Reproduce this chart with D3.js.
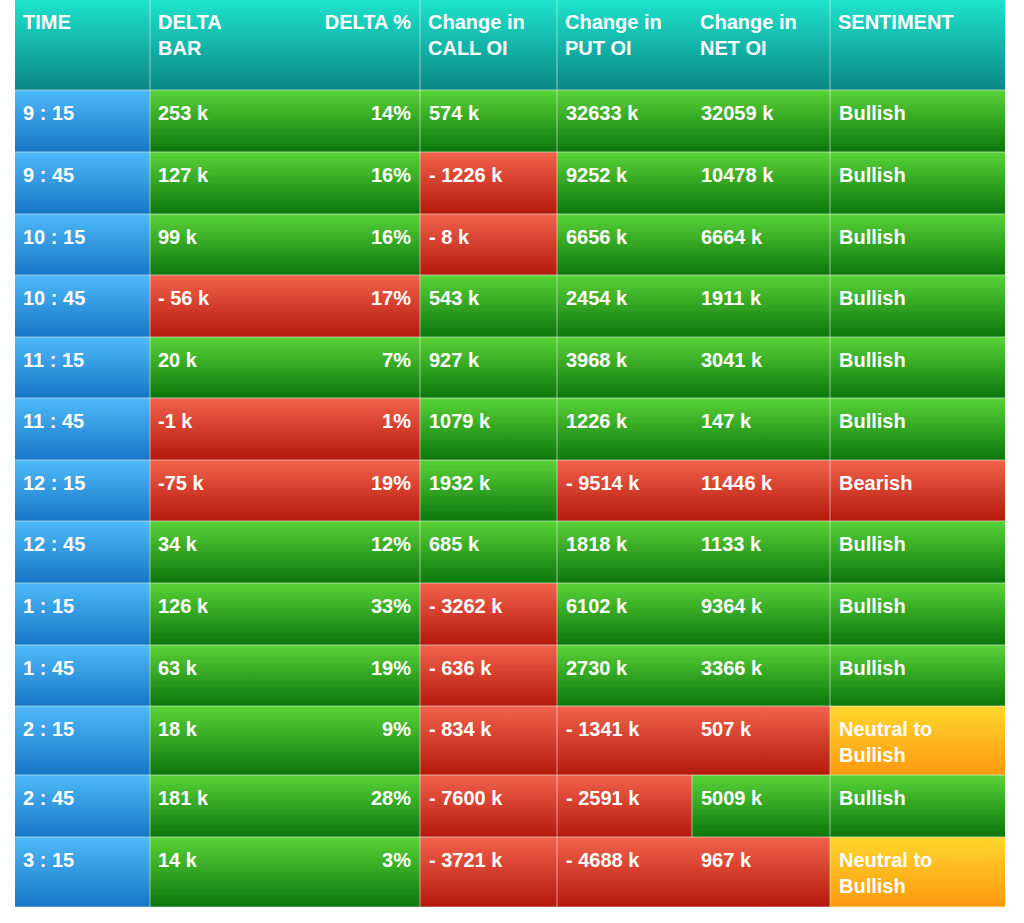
<!DOCTYPE html>
<html>
<head>
<meta charset="utf-8">
<title>OI Table</title>
<script src="https://d3js.org/d3.v7.min.js"></script>
<style>
  body { margin: 0; background: #fff; }
  text { font-family: "Liberation Sans", Arial, sans-serif; font-weight: bold; fill: #fff; font-size: 20px; }
</style>
</head>
<body>
<div id="vis"></div>
<script>
// data
var times = ["9 : 15","9 : 45","10 : 15","10 : 45","11 : 15","11 : 45","12 : 15","12 : 45","1 : 15","1 : 45","2 : 15","2 : 45","3 : 15"];
var deltaBar = [253, 127, 99, -56, 20, -1, -75, 34, 126, 63, 18, 181, 14];
var deltaPct = [14, 16, 16, 17, 7, 1, 19, 12, 33, 19, 9, 28, 3];
var callOI = [574, -1226, -8, 543, 927, 1079, 1932, 685, -3262, -636, -834, -7600, -3721];
var putOI = [32633, 9252, 6656, 2454, 3968, 1226, -9514, 1818, 6102, 2730, -1341, -2591, -4688];
var netOI = [32059, 10478, 6664, 1911, 3041, 147, 11446, 1133, 9364, 3366, 507, 5009, 967];
var netUp = [true, true, true, true, true, true, false, true, true, true, false, true, false];
var sentiment = ["Bullish","Bullish","Bullish","Bullish","Bullish","Bullish","Bearish","Bullish","Bullish","Bullish","Neutral to|Bullish","Bullish","Neutral to|Bullish"];

var W = 1024, H = 923;
var left = 15, right = 1005, headH = 90;
var rowH = [62,62,61,62,61,62,61,62,62,61,69,62,70];
var colX = [15, 150, 420, 557, 692, 830, 1005];

var svg = d3.select("#vis").append("svg").attr("width", W).attr("height", H);
var defs = svg.append("defs");
function grad(id, top, bot) {
  var g = defs.append("linearGradient").attr("id", id).attr("x1", 0).attr("y1", 0).attr("x2", 0).attr("y2", 1);
  g.append("stop").attr("offset", "0%").attr("stop-color", top);
  g.append("stop").attr("offset", "100%").attr("stop-color", bot);
}
grad("gHead", "#1ee3cb", "#0a8785");
grad("gBlue", "#4fbaf9", "#1676c6");
grad("gGreen", "#5ad338", "#0b760c");
grad("gRed", "#f2634c", "#b4180b");
grad("gOrange", "#ffd72e", "#ff980e");

var fmt = function(v) { return v < 0 ? (v > -10 || Math.abs(v) < 100 && v === -1 ? "-" + (-v) + " k" : "- " + (-v) + " k") : v + " k"; };
var fmtDelta = function(v) { return v < 0 ? (v === -56 ? "- 56 k" : v + " k") : v + " k"; };
var fill = function(pos) { return pos ? "url(#gGreen)" : "url(#gRed)"; };

// header
svg.append("rect").attr("x", left).attr("y", 0).attr("width", right - left).attr("height", headH).attr("fill", "url(#gHead)");
var headers = [[left, ["TIME"]], [colX[1], ["DELTA", "BAR"]], [colX[2], ["Change in", "CALL OI"]], [colX[3], ["Change in", "PUT OI"]], [colX[4], ["Change in", "NET OI"]], [colX[5], ["SENTIMENT"]]];
headers.forEach(function(h) {
  h[1].forEach(function(t, i) {
    svg.append("text").attr("x", h[0] + 8).attr("y", 29 + i * 26).text(t);
  });
});
svg.append("text").attr("x", 411).attr("y", 29).attr("text-anchor", "end").text("DELTA %");

var yTop = [];
var acc = headH;
rowH.forEach(function(h) { yTop.push(acc); acc += h; });

times.forEach(function(t, i) {
  var y = yTop[i], h = rowH[i], by = y + 30;
  var g = svg.append("g");
  g.append("rect").attr("x", colX[0]).attr("y", y).attr("width", colX[1] - colX[0]).attr("height", h).attr("fill", "url(#gBlue)");
  g.append("rect").attr("x", colX[1]).attr("y", y).attr("width", colX[2] - colX[1]).attr("height", h).attr("fill", fill(deltaBar[i] >= 0));
  g.append("rect").attr("x", colX[2]).attr("y", y).attr("width", colX[3] - colX[2]).attr("height", h).attr("fill", fill(callOI[i] >= 0));
  g.append("rect").attr("x", colX[3]).attr("y", y).attr("width", colX[4] - colX[3]).attr("height", h).attr("fill", fill(putOI[i] >= 0));
  g.append("rect").attr("x", colX[4]).attr("y", y).attr("width", colX[5] - colX[4]).attr("height", h).attr("fill", fill(netUp[i]));
  var s = sentiment[i];
  var sf = s === "Bullish" ? "url(#gGreen)" : s === "Bearish" ? "url(#gRed)" : "url(#gOrange)";
  g.append("rect").attr("x", colX[5]).attr("y", y).attr("width", colX[6] - colX[5]).attr("height", h).attr("fill", sf);

  g.append("text").attr("x", colX[0] + 8).attr("y", by).text(t);
  g.append("text").attr("x", colX[1] + 8).attr("y", by).text(fmtDelta(deltaBar[i]));
  g.append("text").attr("x", colX[2] - 9).attr("y", by).attr("text-anchor", "end").text(deltaPct[i] + "%");
  g.append("text").attr("x", colX[2] + 9).attr("y", by).text(callOI[i] < 0 ? "- " + (-callOI[i]) + " k" : callOI[i] + " k");
  g.append("text").attr("x", colX[3] + 9).attr("y", by).text(putOI[i] < 0 ? "- " + (-putOI[i]) + " k" : putOI[i] + " k");
  g.append("text").attr("x", colX[4] + 9).attr("y", by).text(netOI[i] + " k");
  s.split("|").forEach(function(p, k) {
    g.append("text").attr("x", colX[5] + 9).attr("y", by + k * 26).text(p);
  });
});

// grid lines
var bottom = acc;
svg.append("g").selectAll("line.h").data(yTop.concat([bottom])).join("line")
  .attr("x1", left).attr("x2", right).attr("y1", function(d) { return d; }).attr("y2", function(d) { return d; })
  .attr("stroke", "#e6f0e6").attr("stroke-width", 1).attr("opacity", 0.6);
svg.append("g").selectAll("line.v").data([colX[1], colX[2], colX[3], colX[5]]).join("line")
  .attr("x1", function(d) { return d; }).attr("x2", function(d) { return d; }).attr("y1", 0).attr("y2", bottom)
  .attr("stroke", "#e6f0e6").attr("stroke-width", 1).attr("opacity", 0.6);
// split between put and net only where colours differ
times.forEach(function(t, i) {
  if ((putOI[i] >= 0) !== netUp[i]) {
    svg.append("line").attr("x1", colX[4]).attr("x2", colX[4]).attr("y1", yTop[i]).attr("y2", yTop[i] + rowH[i])
      .attr("stroke", "#e6f0e6").attr("opacity", 0.6);
  }
});
</script>
</body>
</html>
